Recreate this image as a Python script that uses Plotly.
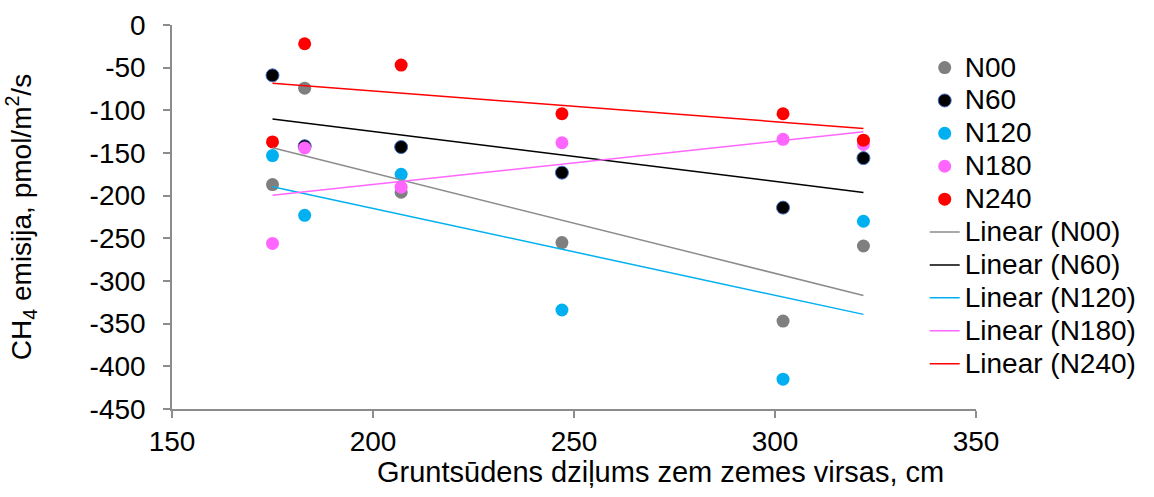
import numpy as np
import plotly.graph_objects as go

# ---- data ----
depth_cm = [175, 183, 207, 247, 302, 322]
n00 = [-187, -74, -196, -255, -347, -259]
n60 = [-59, -142, -143, -173, -214, -156]
n120 = [-153, -223, -175, -334, -415, -230]
n180 = [-256, -144, -190, -138, -134, -140]
n240 = [-137, -22, -47, -104, -104, -135]

series_names = ["N00", "N60", "N120", "N180", "N240"]
series_values = [n00, n60, n120, n180, n240]
series_colors = ["#7F7F7F", "#000000", "#00B0F0", "#FF66FF", "#FF0000"]
trend_colors = ["#8C8C8C", "#000000", "#00B0F0", "#FF66FF", "#FF0000"]

y_tick_vals = [0, -50, -100, -150, -200, -250, -300, -350, -400, -450]
y_tick_text = ["0", "-50", "-100", "-150", "-200", "-250", "-300", "-350", "-400", "-450"]
x_tick_vals = [150, 200, 250, 300, 350]
x_tick_text = ["150", "200", "250", "300", "350"]

FONT = "Arial, Liberation Sans, sans-serif"
TXT = 28
AXIS_GRAY = "#8C8C8C"

def lg(s):
    return f'<span style="font-size:{TXT}px">{s}</span>'

fig = go.Figure()

for name, vals, col in zip(series_names, series_values, series_colors):
    line = dict(color="#4472C4", width=1) if name == "N60" else dict(width=0)
    fig.add_trace(go.Scatter(
        x=depth_cm, y=vals, mode="markers", name=lg(name),
        marker=dict(color=col, size=13, line=line),
    ))

x_arr = np.array(depth_cm, dtype=float)
for name, vals, col in zip(series_names, series_values, trend_colors):
    slope, intercept = np.polyfit(x_arr, np.array(vals, dtype=float), 1)
    xs = [x_arr.min(), x_arr.max()]
    ys = [slope * v + intercept for v in xs]
    fig.add_trace(go.Scatter(
        x=xs, y=ys, mode="lines", name=lg(f"Linear ({name})"),
        line=dict(color=col, width=1.5),
    ))

fig.update_layout(
    width=1154, height=497,
    margin=dict(l=172, r=178, t=25, b=88, autoexpand=False),
    paper_bgcolor="white", plot_bgcolor="white",
    font=dict(family=FONT, size=TXT, color="black"),
    showlegend=True,
    legend=dict(
        x=0.9362, xanchor="left", y=0.945, yanchor="top",
        font=dict(family=FONT, size=23, color="black"),
        bgcolor="rgba(0,0,0,0)", borderwidth=0,
        tracegroupgap=0,
    ),
    xaxis=dict(
        range=[150, 350], tickvals=x_tick_vals, ticktext=x_tick_text,
        showgrid=False, zeroline=False, automargin=False,
        showline=True, linecolor=AXIS_GRAY, linewidth=1.5,
        ticks="outside", ticklen=7, tickcolor=AXIS_GRAY, tickwidth=1.5,
        tickfont=dict(family=FONT, size=TXT, color="black"),
    ),
    yaxis=dict(
        range=[-450, 0], tickvals=y_tick_vals, ticktext=y_tick_text,
        showgrid=False, zeroline=False, automargin=False,
        showline=True, linecolor=AXIS_GRAY, linewidth=1.5,
        ticks="outside", ticklen=7, tickcolor=AXIS_GRAY, tickwidth=1.5,
        tickfont=dict(family=FONT, size=TXT, color="black"),
        ticklabelstandoff=12,
        title=dict(text="CH<sub>4</sub> emisija, pmol/m<sup>2</sup>/s",
                   font=dict(family=FONT, size=TXT, color="black"), standoff=50),
    ),
    annotations=[dict(
        text="Gruntsūdens dziļums zem zemes virsas, cm",
        xref="paper", yref="paper", x=0.6075, y=-0.164,
        xanchor="center", yanchor="middle", showarrow=False,
        font=dict(family=FONT, size=29, color="black"),
    )],
)

fig.write_html("out.html", config={"displayModeBar": False},
               post_script="document.body.style.margin='0';")
